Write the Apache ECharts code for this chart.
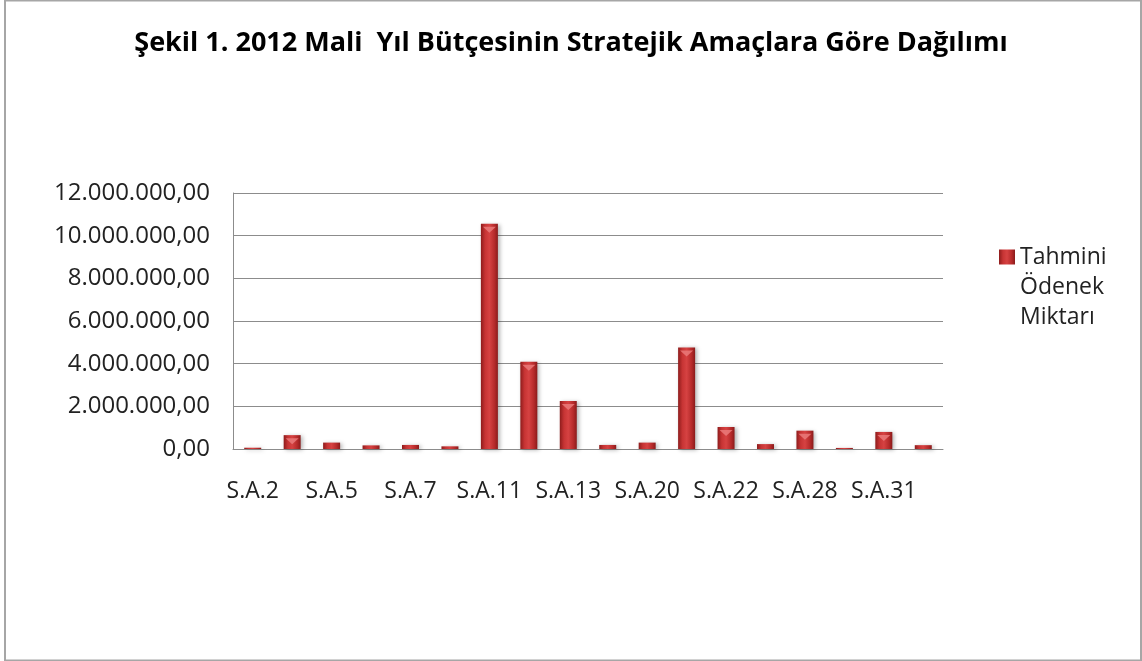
<!DOCTYPE html>
<html>
<head>
<meta charset="utf-8">
<script src="https://cdn.jsdelivr.net/npm/echarts@6/dist/echarts.min.js"></script>
<style>
  html, body { margin: 0; padding: 0; background: #fff; }
  #chart { width: 1142px; height: 661px; }
</style>
</head>
<body>
<div id="chart"></div>
<script>
// amaç kodları (ara etiketler gizli)
var categories = ['S.A.2', 'S.A.3', 'S.A.5', 'S.A.6', 'S.A.7', 'S.A.9', 'S.A.11', 'S.A.12', 'S.A.13',
                  'S.A.14', 'S.A.20', 'S.A.21', 'S.A.22', 'S.A.23', 'S.A.28', 'S.A.29', 'S.A.31', 'S.A.32'];
var odenek = [60000, 650000, 300000, 170000, 190000, 125000, 10560000, 4090000, 2250000,
              190000, 300000, 4760000, 1030000, 230000, 860000, 50000, 800000, 180000];
var yTicks = { min: 0, max: 12000000, step: 2000000 };
var seriesName = 'Tahmini Ödenek Miktarı';

function trFormat(v) {
    return String(v).replace(/\B(?=(\d{3})+(?!\d))/g, '.') + ',00';
}

var font = '"Open Sans", sans-serif';
var chart = echarts.init(document.getElementById('chart'));

var barColor = new echarts.graphic.LinearGradient(0, 0, 1, 0, [
    { offset: 0, color: '#8e1c1c' },
    { offset: 0.25, color: '#c73434' },
    { offset: 0.5, color: '#d64242' },
    { offset: 0.8, color: '#b52a2a' },
    { offset: 1, color: '#8a1b1b' }
]);

// tepe üçgeni sadece yeterince yüksek çubuklarda
var caps = odenek.map(function (v) { return v > 500000 ? v : '-'; });

chart.setOption({
    backgroundColor: '#fff',
    animation: false,
    title: {
        text: 'Şekil 1. 2012 Mali  Yıl Bütçesinin Stratejik Amaçlara Göre Dağılımı',
        left: 'center',
        top: 25,
        textStyle: { fontFamily: font, fontSize: 27, fontWeight: 'bold', color: '#000' }
    },
    graphic: [{
        type: 'rect',
        shape: { x: 5, y: 0.5, width: 1136, height: 660 },
        style: { fill: null, stroke: '#a6a6a6', lineWidth: 2 },
        silent: true
    }],
    legend: {
        data: [{ name: seriesName, icon: 'rect' }],
        orient: 'vertical',
        left: 999,
        top: 182,
        padding: 0,
        itemWidth: 16,
        itemHeight: 15,
        formatter: function (n) { return '\n\n' + n.split(' ').join('\n'); },
        textStyle: { fontFamily: font, fontSize: 23, color: '#222', lineHeight: 30 }
    },
    grid: { left: 233, right: 199, top: 193, bottom: 212 },
    xAxis: {
        type: 'category',
        data: categories,
        axisLine: { lineStyle: { color: '#8c8c8c', width: 1 } },
        axisTick: { show: false },
        axisLabel: { interval: 1, margin: 31, fontFamily: font, fontSize: 23, color: '#222' }
    },
    yAxis: {
        type: 'value',
        min: yTicks.min,
        max: yTicks.max,
        interval: yTicks.step,
        axisLine: { show: true, lineStyle: { color: '#8c8c8c', width: 1 } },
        axisTick: { show: false },
        splitLine: { lineStyle: { color: '#8c8c8c', width: 1 } },
        axisLabel: { margin: 23, formatter: trFormat, fontFamily: font, fontSize: 24, color: '#222' }
    },
    series: [{
        name: seriesName,
        type: 'bar',
        data: odenek,
        barWidth: 17,
        itemStyle: {
            color: barColor,
            shadowBlur: 4,
            shadowColor: 'rgba(0,0,0,0.3)',
            shadowOffsetX: 2,
            shadowOffsetY: 1
        }
    }, {
        type: 'pictorialBar',
        data: caps,
        symbol: 'triangle',
        symbolRotate: 180,
        symbolSize: [13, 6],
        symbolPosition: 'end',
        symbolOffset: [0, '50%'],
        barGap: '-100%',
        z: 3,
        silent: true,
        itemStyle: { color: '#ea7a7a', opacity: 0.85 }
    }]
});
</script>
</body>
</html>
